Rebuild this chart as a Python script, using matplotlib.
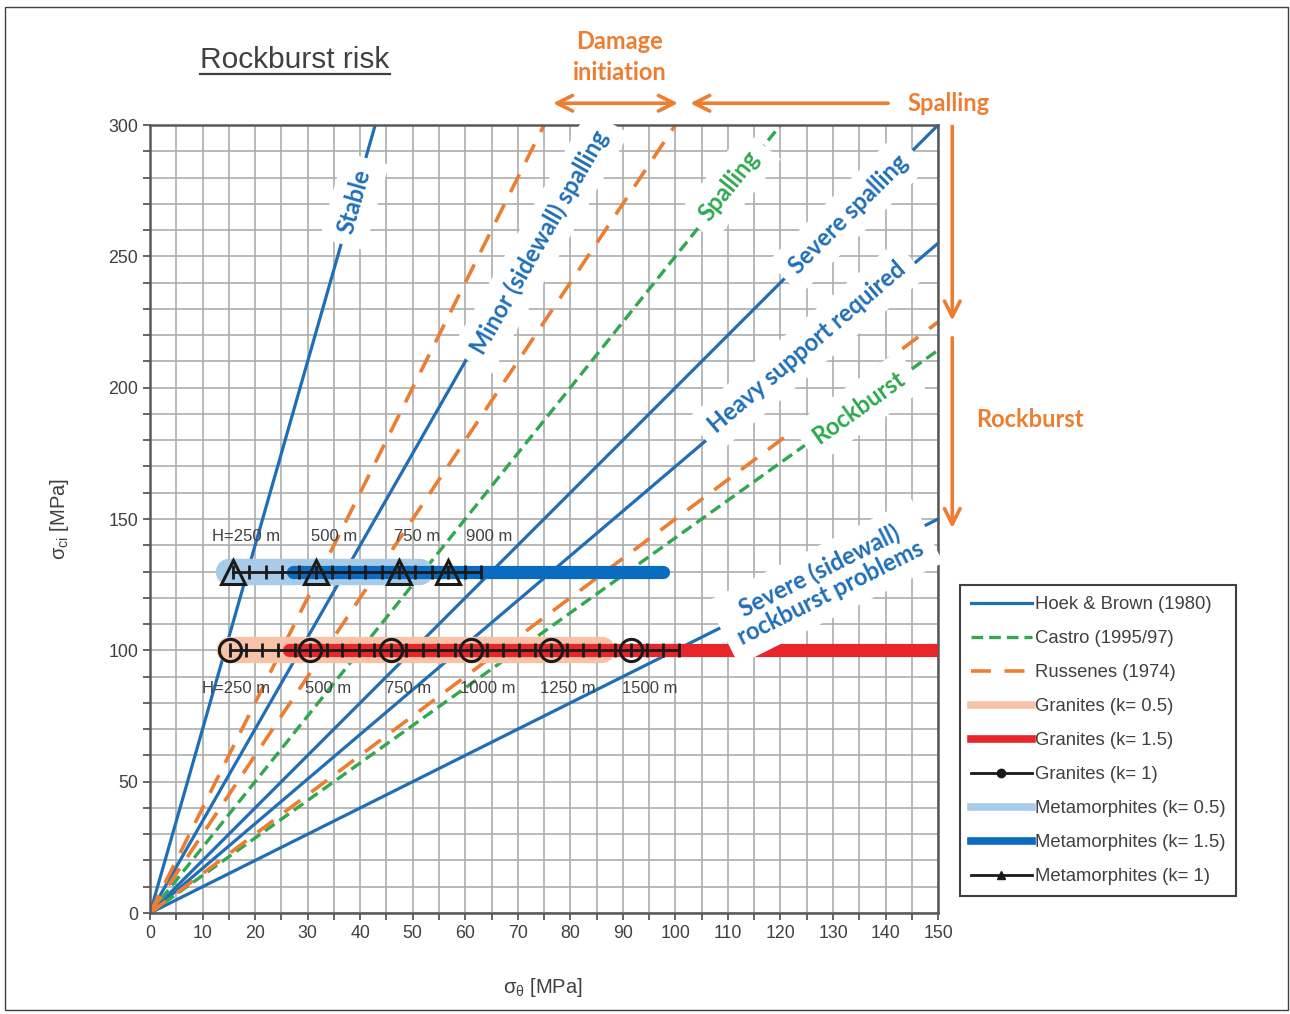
import numpy as np
import matplotlib.pyplot as plt
from matplotlib.lines import Line2D
from matplotlib.patches import Rectangle

plt.rcParams['font.family'] = ['Liberation Sans', 'DejaVu Sans']

# criteria lines, as sigma_theta / sigma_ci
hoek_brown = [1 / 7, 2 / 7, 0.5, 1 / 1.7, 1.0]
castro = [0.4, 0.7]
russenes = [0.25, 1 / 3, 2 / 3]

# Hoek & Brown zone labels and the line each one sits on
hb_labels = ['Stable', 'Minor (sidewall) spalling', 'Severe spalling',
             'Heavy support required', 'Severe (sidewall)\nrockburst problems']
hb_label_ratio = [1 / 7, 2 / 7, 0.5, 1 / 1.7, 1.0]
castro_labels = ['Spalling', 'Rockburst']

# rock types: sigma_ci level and sigma_theta ranges for k = 0.5 / 1.5
granite_sci = 100
granite_k05 = [15.3, 86.0]
granite_k15 = [26.5, 160.0]
meta_sci = 130
meta_k05 = [15.1, 51.4]
meta_k15 = [27.2, 97.7]

# k = 1: depth marks (m) and sigma_theta at those depths
granite_depths = [250, 500, 750, 1000, 1250, 1500]
granite_marks = [15.3, 30.5, 45.8, 61.0, 76.3, 91.5]
meta_depths = [250, 500, 750, 900]
meta_marks = [15.8, 31.5, 47.3, 56.7]
# 50 m steps along the k = 1 lines
granite_steps = [15.3, 18.3, 21.4, 24.4, 27.5, 30.5, 33.6, 36.6, 39.7, 42.7,
                 45.8, 48.8, 51.9, 54.9, 58.0, 61.0, 64.1, 67.1, 70.2, 73.2,
                 76.3, 79.3, 82.4, 85.4, 88.5, 91.5, 94.6, 97.6, 100.6]
meta_steps = [15.8, 18.9, 22.1, 25.2, 28.4, 31.5, 34.7, 37.8, 41.0, 44.1,
              47.3, 50.4, 53.6, 56.7, 59.9, 63.0]

blue = '#1F6EB7'
green = '#2FA84F'
orange = '#ED7D31'
red = '#E8262A'
salmon = '#F6C3A8'
lblue = '#A9CBEA'
dblue = '#0A6CC0'
grey = '#404040'

fig = plt.figure(figsize=(12.9, 10.14), dpi=100)
ax = fig.add_axes([0.1163, 0.0996, 0.6109, 0.7771])
ax.set_xlim(0, 150)
ax.set_ylim(0, 300)
ax.set_xticks(np.arange(0, 151, 10))
ax.set_xticks(np.arange(0, 151, 5), minor=True)
ax.set_yticks(np.arange(0, 301, 50))
ax.set_yticks(np.arange(0, 301, 10), minor=True)
ax.grid(True, which='both', color='#ADADAD', lw=1.2)
ax.set_axisbelow(True)
ax.tick_params(which='both', direction='out', length=5, width=1.3,
               color='#595959', labelsize=12.8, labelcolor=grey)
for s in ax.spines.values():
    s.set_color('#595959')
    s.set_linewidth(1.8)

# criteria lines through the origin
for r in hoek_brown:
    ax.axline((0, 0), slope=1 / r, color=blue, lw=2.3, zorder=2)
for r in castro:
    ax.axline((0, 0), slope=1 / r, color=green, lw=2.4, dashes=(3.5, 1.8), zorder=2)
for r in russenes:
    ax.axline((0, 0), slope=1 / r, color=orange, lw=2.6, dashes=(5.5, 3.8), zorder=2)

# rock bands
ax.plot(granite_k05, [granite_sci] * 2, color=salmon, lw=19, solid_capstyle='round', zorder=3)
ax.plot(granite_k15, [granite_sci] * 2, color=red, lw=9.5, solid_capstyle='round', zorder=3.1)
ax.plot(meta_k05, [meta_sci] * 2, color=lblue, lw=19, solid_capstyle='round', zorder=3)
ax.plot(meta_k15, [meta_sci] * 2, color=dblue, lw=9.5, solid_capstyle='round', zorder=3.1)

ax.plot(granite_steps, [granite_sci] * len(granite_steps), color='#1a1a1a', lw=2,
        marker='|', ms=10, mew=2, zorder=4)
ax.plot(granite_marks, [granite_sci] * len(granite_marks), ls='none', marker='o',
        ms=16, mfc='none', mec='#1a1a1a', mew=2.2, zorder=4.1)
ax.plot(meta_steps, [meta_sci] * len(meta_steps), color='#1a1a1a', lw=2,
        marker='|', ms=10, mew=2, zorder=4)
ax.plot(meta_marks, [meta_sci] * len(meta_marks), ls='none', marker='^',
        ms=17, mfc='none', mec='#1a1a1a', mew=2.2, zorder=4.1)

# depth labels
g_lab_x = [16.4, 33.9, 49.1, 64.2, 79.6, 95.2]
m_lab_x = [18.3, 35.0, 50.8, 64.5]
for i, (d, x) in enumerate(zip(granite_depths, g_lab_x)):
    txt = f'H={d} m' if i == 0 else f'{d} m'
    ax.text(x, granite_sci - 14.7, txt, ha='center', va='center', fontsize=12,
            color=grey, zorder=5)
for i, (d, x) in enumerate(zip(meta_depths, m_lab_x)):
    txt = f'H={d} m' if i == 0 else f'{d} m'
    ax.text(x, meta_sci + 13.5, txt, ha='center', va='center', fontsize=12,
            color=grey, zorder=5)

# zone labels on white boxes
box = dict(boxstyle='square,pad=0.5', fc='white', ec='none')
hb_pos = [(38.9, 271), (74.2, 255.5), (132.9, 266.1), (125.0, 215.3), (128.5, 126.0)]
for t, r, (x, y) in zip(hb_labels, hb_label_ratio, hb_pos):
    ax.text(x, y, t, rotation=np.degrees(np.arctan(1 / r)), transform_rotates_text=True,
            rotation_mode='anchor', ha='center', va='center', color=blue,
            fontsize=17, fontweight='bold', family='Lato', bbox=box,
            zorder=6, clip_on=False, linespacing=1.05)
c_pos = [(110.3, 276.9), (134.8, 192.5)]
for t, r, (x, y) in zip(castro_labels, castro, c_pos):
    ax.text(x, y, t, rotation=np.degrees(np.arctan(1 / r)), transform_rotates_text=True,
            rotation_mode='anchor', ha='center', va='center', color=green,
            fontsize=17, fontweight='bold', family='Lato', bbox=box,
            zorder=6, clip_on=False)

# arrows above and right of the plot
arw = dict(color=orange, lw=2.6, mutation_scale=28, shrinkA=0, shrinkB=0)
ax.annotate('', xy=(100.5, 308.3), xytext=(76.7, 308.3),
            arrowprops=dict(arrowstyle='<->', **arw), annotation_clip=False)
ax.annotate('', xy=(102.8, 308.3), xytext=(140.5, 308.3),
            arrowprops=dict(arrowstyle='->', **arw), annotation_clip=False)
ax.annotate('', xy=(152.7, 225.5), xytext=(152.7, 299.5),
            arrowprops=dict(arrowstyle='->', **arw), annotation_clip=False)
ax.annotate('', xy=(152.7, 146.5), xytext=(152.7, 219.0),
            arrowprops=dict(arrowstyle='->', **arw), annotation_clip=False)

otext = dict(color=orange, fontsize=17, fontweight='bold', family='Lato',
             ha='center', va='center')
fig.text(0.4806, 0.9438, 'Damage\ninitiation', linespacing=1.4, **otext)
fig.text(0.7349, 0.8984, 'Spalling', **otext)
fig.text(0.798, 0.5858, 'Rockburst', **otext)

ax.set_xlabel(r'$\mathregular{\sigma_{\theta}}$ [MPa]', fontsize=14.5, color=grey)
ax.set_ylabel(r'$\mathregular{\sigma_{ci}}$ [MPa]', fontsize=14.5, color=grey)
ax.xaxis.set_label_coords(0.4987, -0.08)
ax.yaxis.set_label_coords(-0.10, 0.5)

# title with underline
fig.text(0.2287, 0.9408, 'Rockburst risk', fontsize=21.5, color=grey,
         ha='center', va='center')
fig.add_artist(Line2D([200 / 1290, 390 / 1290], [1 - 74 / 1014] * 2,
                      transform=fig.transFigure, color=grey, lw=1.6))
fig.add_artist(Rectangle((0.0035, 0.004), 0.995, 0.989, transform=fig.transFigure,
                         fill=False, ec=grey, lw=1))

handles = [
    Line2D([], [], color=blue, lw=2.3),
    Line2D([], [], color=green, lw=2.4, dashes=(3.5, 1.8)),
    Line2D([], [], color=orange, lw=2.6, dashes=(5.5, 3.8)),
    Line2D([], [], color=salmon, lw=5.5),
    Line2D([], [], color=red, lw=5.5),
    Line2D([], [], color='#1a1a1a', lw=2, marker='o', ms=6),
    Line2D([], [], color=lblue, lw=5.5),
    Line2D([], [], color=dblue, lw=5.5),
    Line2D([], [], color='#1a1a1a', lw=2, marker='^', ms=6),
]
labels = ['Hoek & Brown (1980)', 'Castro (1995/97)', 'Russenes (1974)',
          'Granites (k= 0.5)', 'Granites (k= 1.5)', 'Granites (k= 1)',
          'Metamorphites (k= 0.5)', 'Metamorphites (k= 1.5)', 'Metamorphites (k= 1)']
leg = fig.legend(handles, labels, loc='upper left', bbox_to_anchor=(0.744, 0.423),
                 bbox_transform=fig.transFigure, fontsize=13.3, labelcolor=grey,
                 fancybox=False, edgecolor=grey, framealpha=1, handlelength=3.3,
                 handletextpad=0.15, labelspacing=0.92, borderpad=0.6, borderaxespad=0)
leg.get_frame().set_linewidth(1.5)

fig.savefig('out.png', dpi=100)
